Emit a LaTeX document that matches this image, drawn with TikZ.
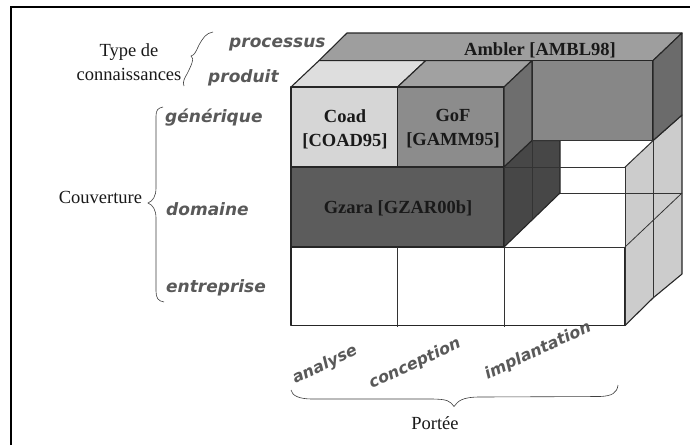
\documentclass[tikz,border=0pt]{standalone}
\usepackage{fontspec}
\setmainfont{Liberation Serif}
\newfontfamily\hand{DejaVu Sans}
\begin{document}
\begin{tikzpicture}[x=1pt,y=-1pt,
  edge/.style={draw=black!85,line width=1.1pt,line join=round},
  face/.style={edge,fill=#1},
  thin wire/.style={draw=black!80,line width=0.8pt},
  lab/.style={font=\fontsize{18.5}{24}\selectfont\bfseries,align=center,inner sep=0pt,text=black!90},
  txt/.style={font=\fontsize{18.5}{23.5}\selectfont,align=center,inner sep=0pt,text=black!90},
  hw/.style={font=\hand\fontsize{17}{19}\selectfont\bfseries\itshape,text=black!65,inner sep=0pt},
  hwr/.style={hw,font=\hand\fontsize{16}{18}\selectfont\bfseries\itshape,rotate=25},
  brace/.style={draw=black!75,line width=0.6pt,fill=none}]
\useasboundingbox (0,0) rectangle (690,445);
\fill[white] (0,0) rectangle (690,445);
\draw[black,line width=2pt] (11,445) -- (11,7) -- (690,7);

% white bottom row
\draw[face=white] (291,247) rectangle (625,325.5);
% right light panels
\draw[face=black!20] (625,167) -- (653,140.6) -- (682,115) -- (682,274) -- (653,298) -- (625,325.5) -- cycle;
% white interior
\fill[white] (504,247) -- (560,193) -- (560,140.6) -- (653,140.6) -- (625,167) -- (625,247) -- cycle;
\draw[thin wire] (560,193) -- (682,193);
\draw[thin wire] (625,247) -- (682,193);
\draw[thin wire] (653,60.6) -- (653,298);
% Ambler
\draw[face=black!38] (319,60.6) -- (347,33) -- (682,33) -- (653,60.6) -- cycle;
\draw[face=black!47] (532,60.6) rectangle (653,140.6);
\draw[face=black!58] (653,60.6) -- (682,33) -- (682,115) -- (653,140.6) -- cycle;
% Coad & GoF
\draw[face=black!13] (291,87) -- (319,60.6) -- (425.7,60.6) -- (397.5,87) -- cycle;
\draw[face=black!37] (397.5,87) -- (425.7,60.6) -- (532,60.6) -- (504,87) -- cycle;
\draw[face=black!16] (291,87) rectangle (397.5,167);
\draw[face=black!45] (397.5,87) rectangle (504,167);
\draw[face=black!57] (504,87) -- (532,60.6) -- (532,140.6) -- (504,167) -- cycle;
% Gzara
\draw[face=black!64] (291,167) rectangle (504,247);
\draw[face=black!72] (504,167) -- (532,140.6) -- (560,140.6) -- (560,193) -- (504,247) -- cycle;
\draw[thin wire] (532,140.6) -- (532,220);
% wire
\draw[thin wire] (504,167) -- (625,167);
\draw[thin wire] (532,140.6) -- (653,140.6);
\draw[thin wire] (504,247) -- (625,247);
\draw[thin wire] (625,167) -- (625,325.5);
\draw[thin wire] (625,167) -- (653,140.6);
\draw[thin wire] (397.5,247) -- (397.5,327);
\draw[thin wire] (504,247) -- (504,327);

\node[lab] (coad) at (345,129) {Coad\\{[COAD95]}};
\node[lab] (gof) at (453,129) {GoF\\{[GAMM95]}};
\node[lab] (gzara) at (398,208) {Gzara [GZAR00b]};
\node[lab] (ambler) at (540,50) {Ambler [AMBL98]};

\node[txt] (type) at (129,62) {Type de\\connaissances};
\node[txt] (couv) at (100.5,197) {Couverture};
\node[txt] (port) at (435,423.5) {Portée};

\node[hw,anchor=west] (proc) at (229,44.5) {processus};
\node[hw,anchor=west] (prod) at (208,78) {produit};
\node[hw,anchor=west] (gen) at (165,118) {générique};
\node[hw,anchor=west] (dom) at (166,209) {domaine};
\node[hw,anchor=west] (ent) at (166,288) {entreprise};
\node[hwr] (ana) at (325,365) {analyse};
\node[hwr] (con) at (415,364) {conception};
\node[hwr] (imp) at (538,351) {implantation};

% braces
\draw[brace] (213,32) .. controls (206,33) and (203,38) .. (199,45) .. controls (196,51) and (195,55) .. (191,56) .. controls (195,58) and (191,66) .. (187,74) .. controls (185,77) and (182,83) .. (184,86);
\draw[brace] (163,107) .. controls (158,108) and (156,110) .. (156,116) -- (156,188) .. controls (156,196) and (153,201) .. (148,203) .. controls (153,205) and (156,210) .. (156,218) -- (156,291) .. controls (156,298) and (158,301) .. (164,302);
\draw[brace] (291,390) .. controls (292,396) and (300,399) .. (312,399) -- (430,399) .. controls (448,399) and (450,401) .. (454,406.5) .. controls (458,401) and (462,397) .. (480,397) -- (600,396.5) .. controls (612,396) and (617,393) .. (618,385);
\end{tikzpicture}
\end{document}
